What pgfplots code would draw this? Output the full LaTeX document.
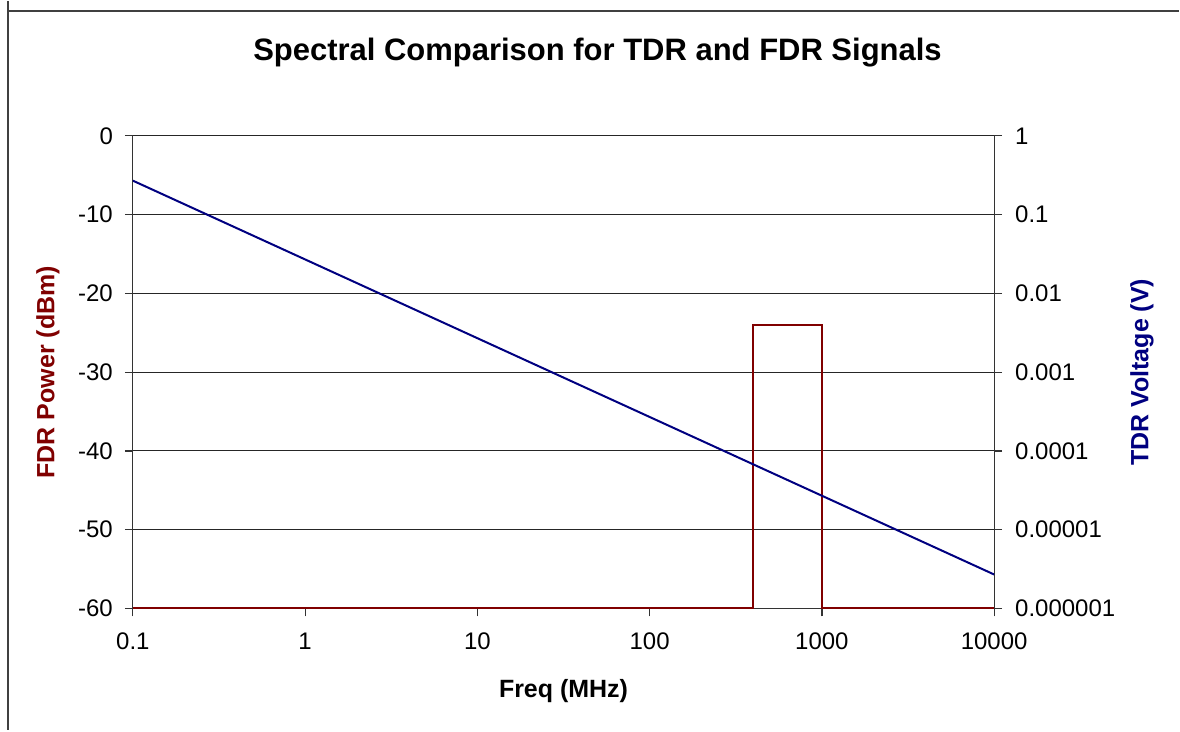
\documentclass[border=0pt]{standalone}
\usepackage{pgfplots}
\pgfplotsset{compat=1.18}
\usepackage{fontspec}
\setmainfont{Liberation Sans}
\definecolor{fdrred}{RGB}{128,0,0}
\definecolor{tdrblue}{RGB}{0,0,128}
\begin{document}
\begin{tikzpicture}[x=1pt,y=1pt]
\path (0,0) rectangle (590,365);
\draw[line width=1pt,black!75] (4,365) -- (4,360) -- (590,360);
\draw[line width=1pt,black!75] (4,360) -- (4,0);
\node[font=\fontsize{15.5}{18}\selectfont\bfseries] at (299,339) {Spectral Comparison for TDR and FDR Signals};
\begin{axis}[
  at={(66.5pt,61pt)}, anchor=south west,
  scale only axis, width=431pt, height=236.5pt,
  xmode=log, xmin=0.1, xmax=10000,
  ymin=-60, ymax=0,
  axis x line*=bottom, axis y line*=left,
  axis line style={black!80, line width=0.6pt},
  xtick={0.1,1,10,100,1000,10000},
  xticklabels={0.1,1,10,100,1000,10000},
  xminorticks=false, yminorticks=false,
  ytick={-60,-50,-40,-30,-20,-10,0},
  yticklabels={-60,-50,-40,-30,-20,-10,0},
  ymajorgrids,
  grid style={black!85, line width=0.5pt},
  tick align=outside,
  major tick length=4pt,
  tick style={black!80, line width=0.6pt},
  ticklabel style={font=\fontsize{12}{14}\selectfont},
  xticklabel style={yshift=-4.5pt},
  yticklabel style={xshift=-2.5pt},
  xlabel={Freq (MHz)},
  ylabel={FDR Power (dBm)},
  xlabel style={font=\fontsize{12.5}{15}\selectfont\bfseries, at={(axis description cs:0.5,-0.174)}, anchor=center},
  ylabel style={font=\fontsize{12.5}{15}\selectfont\bfseries, color=fdrred, at={(axis description cs:-0.0986,0.5)}, anchor=center},
  clip=false,
]
\addplot[fdrred, line width=1pt, sharp plot] coordinates {
  (0.1,-60) (400,-60) (400,-24) (1000,-24) (1000,-60) (10000,-60)
};
\end{axis}
\begin{axis}[
  at={(66.5pt,61pt)}, anchor=south west,
  scale only axis, width=431pt, height=236.5pt,
  xmode=log, xmin=0.1, xmax=10000,
  ymode=log, ymin=1e-6, ymax=1,
  axis x line=none, axis y line*=right,
  axis line style={black!80, line width=0.6pt},
  ytick={1e-6,1e-5,1e-4,1e-3,1e-2,1e-1,1},
  yticklabels={0.000001,0.00001,0.0001,0.001,0.01,0.1,1},
  xminorticks=false, yminorticks=false,
  tick align=outside,
  major tick length=4pt,
  tick style={black!80, line width=0.6pt},
  ticklabel style={font=\fontsize{12}{14}\selectfont},
  yticklabel style={xshift=3pt},
  ylabel={TDR Voltage (V)},
  ylabel style={font=\fontsize{12.5}{15}\selectfont\bfseries, color=tdrblue, at={(axis description cs:1.1717,0.5)}, anchor=center, rotate=0},
]
\addplot[tdrblue, line width=1pt] coordinates {
  (0.1,0.27) (1,0.027) (10,0.0027) (100,0.00027) (1000,0.000027) (10000,0.0000027)
};
\end{axis}
\end{tikzpicture}
\end{document}
